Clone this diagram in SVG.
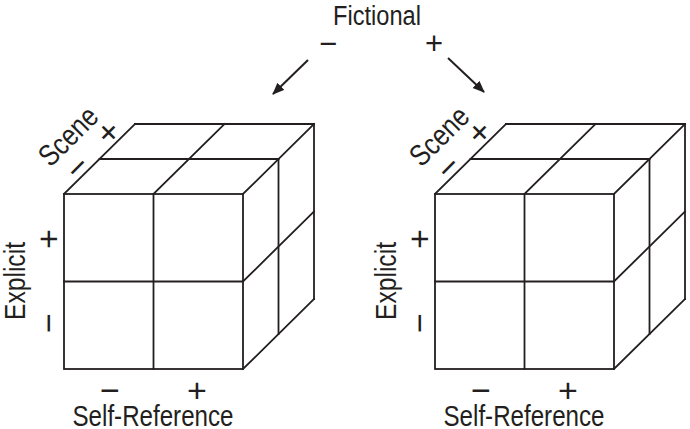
<svg xmlns="http://www.w3.org/2000/svg" width="690" height="429" viewBox="0 0 690 429">
<style>
.ln{stroke:#231f20;stroke-width:1.8;fill:none;stroke-linecap:square}
.ar{stroke:#231f20;stroke-width:2;fill:none}
.t{font-family:"Liberation Sans",Arial,sans-serif;font-size:30px;fill:#231f20;text-anchor:middle}
.s{font-family:"Liberation Sans",Arial,sans-serif;font-size:34px;fill:#231f20;text-anchor:middle}
</style>
<defs>
<marker id="ah" markerUnits="userSpaceOnUse" markerWidth="14" markerHeight="12" refX="11" refY="5" orient="auto">
<path d="M0,0 L12,5 L0,10 z" fill="#231f20"/>
</marker>
<g id="cubeShape">
<rect class="ln" x="64" y="194" width="179" height="175"/>
<line class="ln" x1="153.5" y1="194" x2="153.5" y2="369"/>
<line class="ln" x1="64" y1="281.5" x2="243" y2="281.5"/>
<line class="ln" x1="99.5" y1="159" x2="278.5" y2="159"/>
<line class="ln" x1="135" y1="124" x2="314" y2="124"/>
<line class="ln" x1="64" y1="194" x2="135" y2="124"/>
<line class="ln" x1="153.5" y1="194" x2="224.5" y2="124"/>
<line class="ln" x1="243" y1="194" x2="314" y2="124"/>
<line class="ln" x1="278.5" y1="159" x2="278.5" y2="334"/>
<line class="ln" x1="314" y1="124" x2="314" y2="299"/>
<line class="ln" x1="243" y1="281.5" x2="314" y2="211.5"/>
<line class="ln" x1="243" y1="369" x2="314" y2="299"/>
</g>
<g id="labelSet">
<text class="t" transform="translate(69,137) rotate(-45)" x="0" y="9" textLength="70" lengthAdjust="spacingAndGlyphs">Scene</text>
<text class="s" transform="translate(108,132) rotate(-45)" x="0" y="12">+</text>
<text class="s" transform="translate(77,167) rotate(-45)" x="0" y="12">−</text>
<text class="t" transform="translate(25,281) rotate(-90)" x="0" y="0" textLength="78" lengthAdjust="spacingAndGlyphs">Explicit</text>
<text class="s" transform="translate(48,239) rotate(-90)" x="0" y="12">+</text>
<text class="s" transform="translate(48,323) rotate(-90)" x="0" y="12">−</text>
<text class="s" x="110" y="402">−</text>
<text class="s" x="197" y="402">+</text>
<text class="t" x="153" y="426" textLength="161" lengthAdjust="spacingAndGlyphs">Self-Reference</text>
</g>
</defs>
<g id="title">
<text class="t" x="377" y="25" style="font-size:27px" textLength="88" lengthAdjust="spacingAndGlyphs">Fictional</text>
<text class="s" x="328" y="54" style="font-size:31px">−</text>
<text class="s" x="434" y="54" style="font-size:31px">+</text>
</g>
<g id="connectors">
<line class="ar" x1="308" y1="60" x2="273" y2="94" marker-end="url(#ah)"/>
<line class="ar" x1="448" y1="58" x2="484" y2="92" marker-end="url(#ah)"/>
</g>
<g id="cube-minus">
<use href="#cubeShape"/>
<use href="#labelSet"/>
</g>
<g id="cube-plus" transform="translate(371,0)">
<use href="#cubeShape"/>
<use href="#labelSet"/>
</g>
</svg>
